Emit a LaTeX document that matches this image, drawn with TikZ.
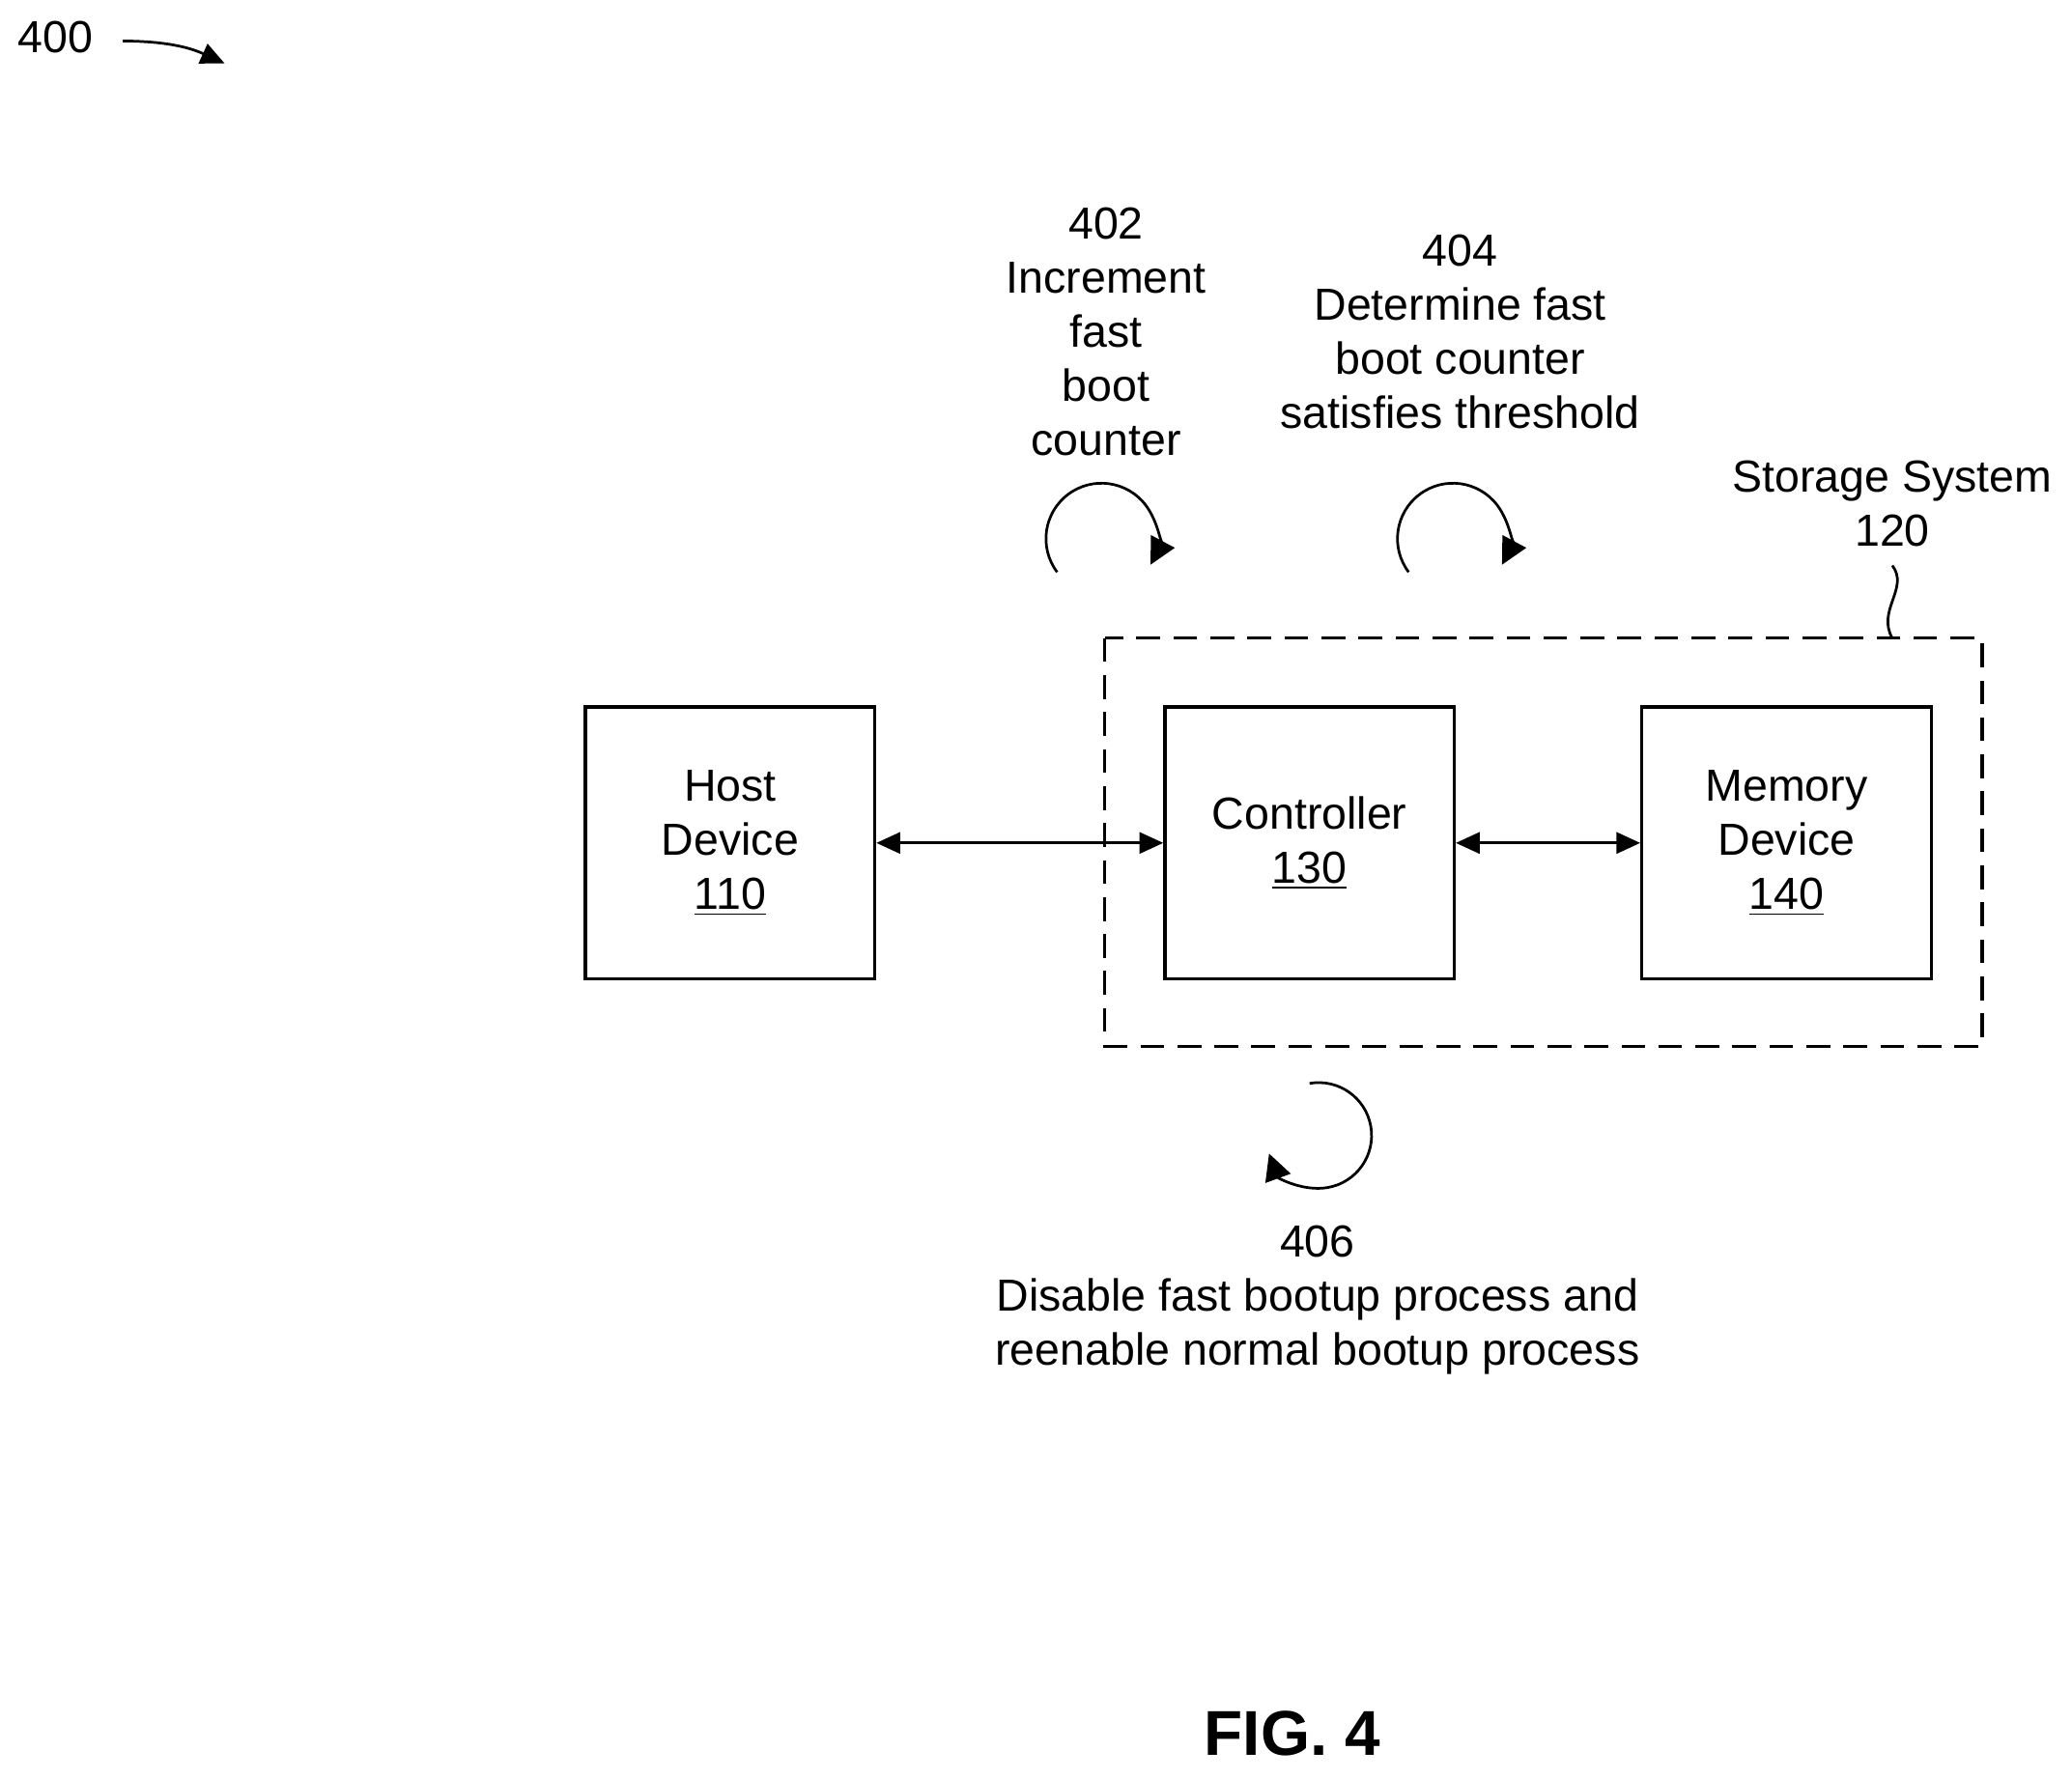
\documentclass[tikz,border=0pt]{standalone}
\usepackage{fontspec}
\setmainfont{Liberation Sans}
\usetikzlibrary{arrows.meta}
\begin{document}
\begin{tikzpicture}[x=0.5pt,y=-0.5pt,
  txt/.style={font=\fontsize{17}{20.5}\selectfont,align=center,inner sep=0pt},
  box/.style={draw,line width=1.2pt,minimum width=109.5pt,minimum height=103pt,txt},
  arr/.style={line width=1pt,{Triangle[length=9pt,width=8pt]}-{Triangle[length=9pt,width=8pt]}},
  circ/.style={line width=1pt,-{Triangle[length=10pt,width=10pt]}}]
\useasboundingbox (0,0) rectangle (1568,1346);
\node[txt] (n400) at (42,28) {400};
\coordinate (a1) at (93,31);
\coordinate (a2) at (170,48);
\draw[line width=1pt,-{Triangle[length=9pt,width=8pt]}] (a1) to[bend left=12] (a2);
\draw[line width=1.2pt,dash pattern=on 9pt off 5pt] (836,483) rectangle (1500,792);
\node[box] (host) at (552.5,638) {Host\\Device\\\underline{110}};
\node[box] (ctrl) at (991,638) {Controller\\\underline{130}};
\node[box] (mem) at (1352,638) {Memory\\Device\\\underline{140}};
\draw[arr] (host) -- (ctrl);
\draw[arr] (ctrl) -- (mem);
\node[txt] (ss) at (1432,381) {Storage System\\120};
\coordinate (s1) at (1432,428);
\coordinate (s2) at (1432,483);
\draw[line width=1pt] (s1) .. controls (1445,445) and (1420,462) .. (s2);
\node[txt] (t402) at (837,251) {402\\Increment\\fast\\boot\\counter};
\node[txt] (t404) at (1105,251) {404\\Determine fast\\boot counter\\satisfies threshold};
\node[txt] (t406) at (997,984) {406\\Disable fast bootup process and\\reenable normal bootup process};
\draw[circ] (800,433) arc[start angle=217,end angle=-28,radius=21pt];
\draw[circ] (1066,433) arc[start angle=217,end angle=-28,radius=21pt];
\draw[circ] (991,820) arc[start angle=100,end angle=-160,radius=20pt];
\node[font=\bfseries\fontsize{24}{28}\selectfont,inner sep=0pt] (fig) at (978,1312) {FIG. 4};
\end{tikzpicture}
\end{document}
